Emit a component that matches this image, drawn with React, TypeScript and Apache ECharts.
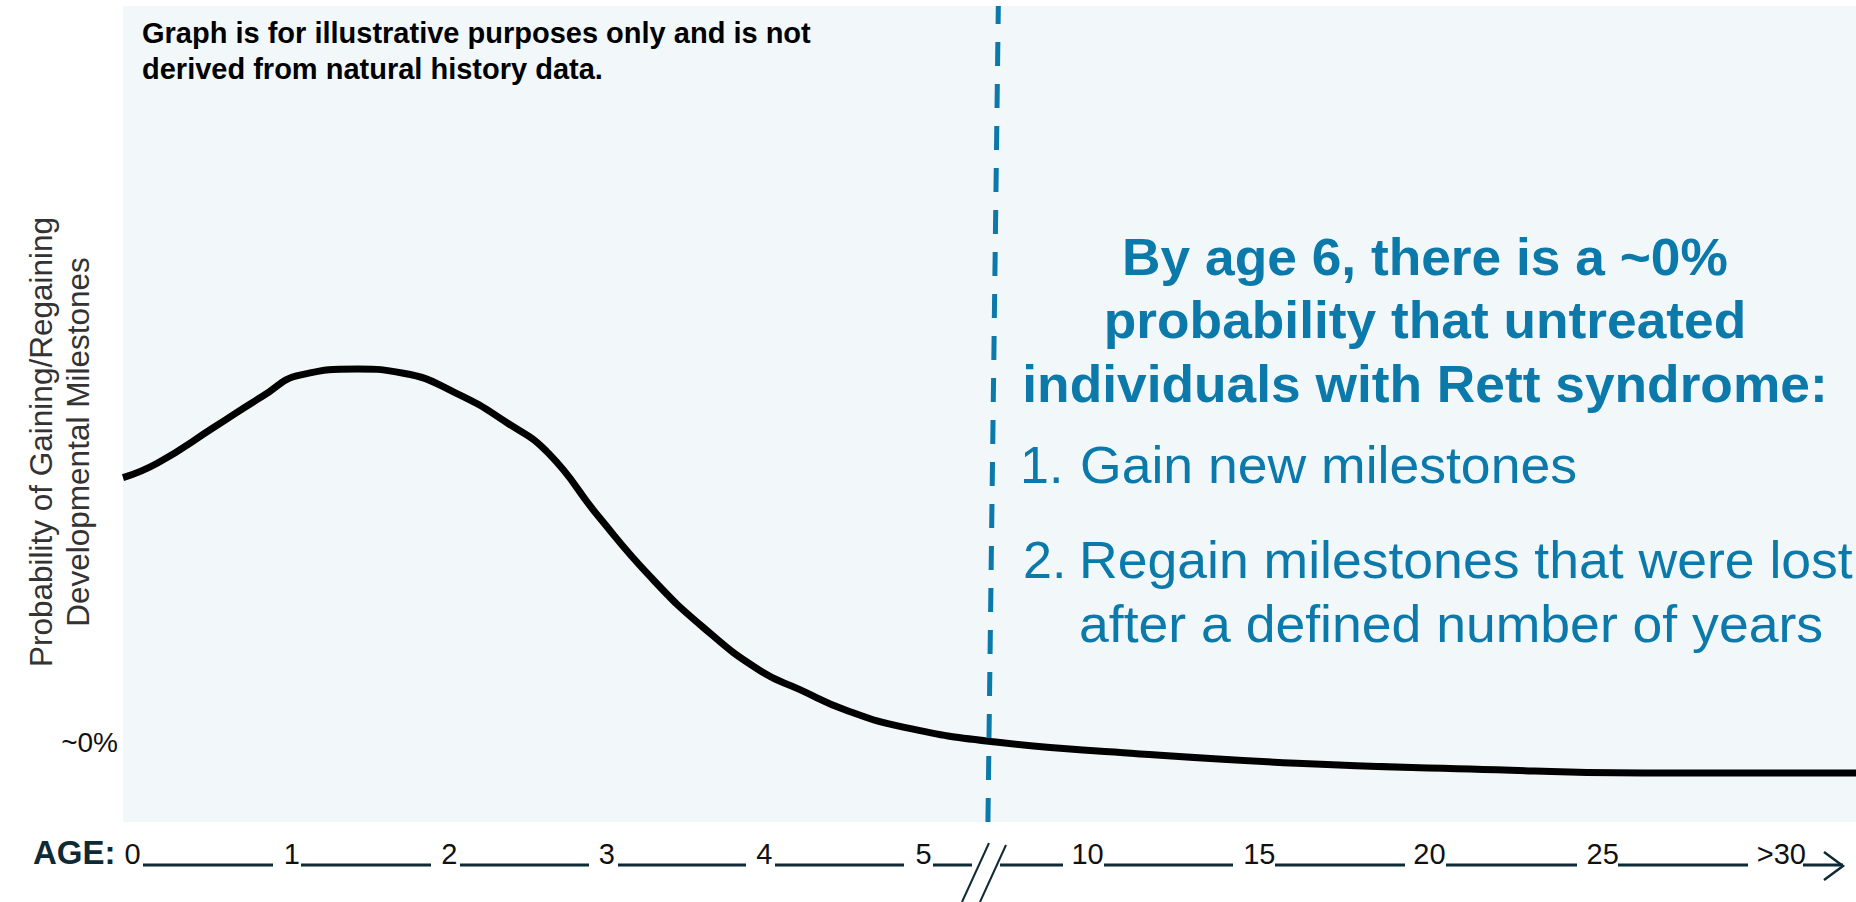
import React, { useEffect, useRef } from 'react';
import * as echarts from 'echarts';

// Curve: x is the position along the (broken) age axis, y the illustrative probability (0-100)
const curvePos = [0, 0.22, 0.58, 0.88, 1.13, 1.49, 1.78, 2.11, 2.44, 2.7, 3.02, 3.35, 3.68, 4.04, 4.3, 4.59, 4.96, 5.54, 6.35, 7.45, 8.55, 9.65, 11];
const curveProb = [42.2, 44.0, 48.4, 52.1, 54.8, 55.5, 55.0, 52.6, 48.9, 45.2, 37.4, 30.0, 23.9, 18.6, 16.2, 13.7, 11.6, 9.8, 8.5, 7.2, 6.5, 6.0, 6.0];

// Age tick labels and where they sit along the axis
const ageLabels = ['0', '1', '2', '3', '4', '5', '10', '15', '20', '25', '>30'];
const ageTickPos = [0.01, 1.02, 2.02, 3.02, 4.02, 5.03, 6.02, 7.11, 8.19, 9.29, 10.37];

// Y tick
const probTickValues = [9.7];
const probTickLabels = ['~0%'];

// "By age 6" dashed marker (slightly slanted)
const age6Line = [
  [5.49, 0],
  [5.556, 100],
];

const FONT = 'Arial, "Liberation Sans", Helvetica, sans-serif';
const BLUE = '#0B79A9';
const DARK = '#0d2a35';

export default function App() {
  const ref = useRef<HTMLDivElement>(null);

  useEffect(() => {
    const chart = echarts.init(ref.current as HTMLDivElement, null, { renderer: 'svg' });

    const underlineSegs = [
      [143, 273], [301, 431], [460, 589], [618, 746], [775, 904], [933, 972],
      [1000, 1063], [1104, 1233], [1275, 1405], [1446, 1577], [1618, 1748], [1803, 1843],
    ];
    const ulY = 865;

    const graphic: any[] = [
      {
        type: 'text', x: 33, y: 852.5,
        style: { text: 'AGE:', fontSize: 33, fontWeight: 'bold', fontFamily: FONT, fill: DARK, align: 'left', verticalAlign: 'middle' },
      },
      ...underlineSegs.map(([a, b]) => ({
        type: 'line', shape: { x1: a, y1: ulY, x2: b, y2: ulY }, style: { stroke: DARK, lineWidth: 3 },
      })),
      { type: 'polyline', shape: { points: [[1824, 852], [1843, 866], [1824, 880]] }, style: { stroke: DARK, lineWidth: 2.5, fill: null } },
      { type: 'line', shape: { x1: 989, y1: 843, x2: 962, y2: 902 }, style: { stroke: DARK, lineWidth: 2 } },
      { type: 'line', shape: { x1: 1006, y1: 845, x2: 980, y2: 902 }, style: { stroke: DARK, lineWidth: 2 } },
      {
        type: 'text', x: 1425, y: 225.5, scaleX: 1.045,
        style: {
          text: 'By age 6, there is a ~0%\nprobability that untreated\nindividuals with Rett syndrome:',
          fontSize: 51, fontWeight: 'bold', fontFamily: FONT, fill: BLUE, align: 'center', verticalAlign: 'top', lineHeight: 63.5,
        },
      },
      {
        type: 'text', x: 1020, y: 465,
        style: { text: '1.', fontSize: 52, fontFamily: FONT, fill: BLUE, align: 'left', verticalAlign: 'middle' },
      },
      {
        type: 'text', x: 1080, y: 465, scaleX: 1.03,
        style: { text: 'Gain new milestones', fontSize: 52, fontFamily: FONT, fill: BLUE, align: 'left', verticalAlign: 'middle' },
      },
      {
        type: 'text', x: 1023, y: 560,
        style: { text: '2.', fontSize: 52, fontFamily: FONT, fill: BLUE, align: 'left', verticalAlign: 'middle' },
      },
      {
        type: 'text', x: 1079, y: 528, scaleX: 1.03,
        style: {
          text: 'Regain milestones that were lost\nafter a defined number of years',
          fontSize: 52, fontFamily: FONT, fill: BLUE, align: 'left', verticalAlign: 'top', lineHeight: 64,
        },
      },
    ];

    const option: any = {
      animation: false,
      backgroundColor: '#ffffff',
      title: {
        text: 'Graph is for illustrative purposes only and is not\nderived from natural history data.',
        left: 142, top: 15, padding: 0,
        textStyle: { fontSize: 29, fontWeight: 'bold', color: '#000', lineHeight: 36, fontFamily: FONT },
      },
      grid: {
        left: 123, right: 0, top: 6, bottom: 80,
        show: true, backgroundColor: '#F2F7FA', borderWidth: 0,
        outerBoundsMode: 'none', containLabel: false,
      },
      xAxis: {
        type: 'value', min: 0, max: 11,
        axisLine: { show: false }, axisTick: { show: false }, splitLine: { show: false },
        axisLabel: {
          customValues: ageTickPos,
          formatter: (v: number) => {
            let best = 0;
            for (let i = 0; i < ageTickPos.length; i++) {
              if (Math.abs(ageTickPos[i] - v) < Math.abs(ageTickPos[best] - v)) best = i;
            }
            return ageLabels[best];
          },
          align: 'left', margin: 17.5, fontSize: 29, color: '#111', fontFamily: FONT, hideOverlap: false,
        },
      },
      yAxis: {
        type: 'value', min: 0, max: 100,
        axisLine: { show: false }, axisTick: { show: false }, splitLine: { show: false },
        axisLabel: {
          customValues: probTickValues,
          formatter: (v: number) => probTickLabels[0],
          margin: 5, fontSize: 28, color: '#111', fontFamily: FONT,
        },
        name: 'Probability of Gaining/Regaining\nDevelopmental Milestones',
        nameLocation: 'middle', nameRotate: 90, nameGap: 27, nameMoveOverlap: false,
        nameTextStyle: { fontSize: 31.5, lineHeight: 37, color: '#333', fontFamily: FONT, padding: [0, 56, 0, 0] },
      },
      series: [
        {
          type: 'line',
          data: curvePos.map((x, i) => [x, curveProb[i]]),
          smooth: 0.5,
          showSymbol: false,
          symbol: 'none',
          lineStyle: { color: '#000', width: 7 },
          silent: true,
          markLine: {
            silent: true,
            symbol: ['none', 'none'],
            label: { show: false },
            lineStyle: { color: BLUE, width: 5, type: [24, 18] },
            data: [[{ coord: age6Line[0] }, { coord: age6Line[1] }]],
          },
        },
      ],
      graphic,
    };

    chart.setOption(option);
    return () => chart.dispose();
  }, []);

  return (
    <div
      ref={ref}
      style={{ position: 'fixed', left: 0, top: 0, width: 1856, height: 902, background: '#fff' }}
    />
  );
}
